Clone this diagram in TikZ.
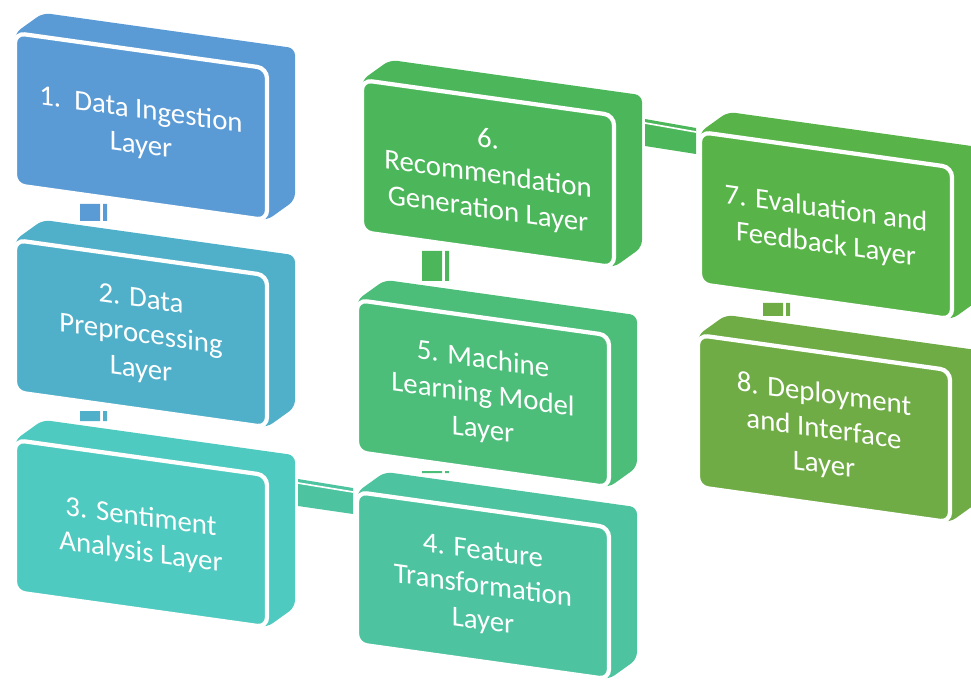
\documentclass[tikz,border=0pt]{standalone}
\usepackage{fontspec}
\setmainfont{Carlito}
\usetikzlibrary{calc}

\definecolor{layerA}{RGB}{91,155,213}
\definecolor{layerB}{RGB}{80,176,202}
\definecolor{layerC}{RGB}{79,202,192}
\definecolor{layerD}{RGB}{77,195,160}
\definecolor{layerE}{RGB}{76,190,122}
\definecolor{layerF}{RGB}{76,183,90}
\definecolor{layerG}{RGB}{88,180,72}
\definecolor{layerH}{RGB}{112,172,70}

\tikzset{
  hull/.style={fill=#1, rounded corners=5pt},
  face/.style={fill=#1, draw=white, line width=3pt, rounded corners=7pt},
  facetext/.style={text=white, align=center, transform shape,
    font=\fontsize{20.5}{25}\selectfont},
  barline/.style={white, line width=1.2pt},
}

% one 3d block: front face corner, colour, text
\newcommand{\layerblock}[3]{%
  \begin{scope}[shift={(#1)}, yslant=-0.14]
    \fill[hull=#2] (0,0) -- (28,-24) -- (280,-24) -- (280,128) -- (252,152) -- (0,152) -- cycle;
    \draw[face=#2] (0,0) rectangle (252,152);
    \node[facetext] (#1-t) at (126,78) {#3};
  \end{scope}}

% bar going down from one block to the next
\newcommand{\vlink}[3]{%
  \fill[#3] let \p1=($(#1)+(0,171)$), \p2=($(#2)+(65,-19)$) in
    (\x2,\y1) rectangle ($(\x2,\y2)+(20,0)$)
    ($(\x2,\y1)+(23,0)$) rectangle ($(\x2,\y2)+(27,0)$);}

% bar going right from one block to the next
\newcommand{\hlink}[3]{%
  \fill[#3] ($(#1)+(283,39)$) -- ($(#2)+(-4,-4)$) -- ($(#2)+(-4,22)$) -- ($(#1)+(283,66)$) -- cycle;
  \draw[barline] ($(#1)+(283,43)$) -- ($(#2)+(-4,0)$);}

\begin{document}
\begin{tikzpicture}[x=0.025cm, y=-0.025cm]
  \useasboundingbox (0,0) rectangle (971,681);

  % front face corners
  \coordinate (L1) at (15,33);
  \coordinate (L2) at (15,240);
  \coordinate (L3) at (15,440);
  \coordinate (L4) at (357,492);
  \coordinate (L5) at (357,300);
  \coordinate (L6) at (362,80);
  \coordinate (L7) at (700,132);
  \coordinate (L8) at (698,335);

  % --- links ---
  \vlink{L1}{L2}{layerA}
  \vlink{L2}{L3}{layerB}
  \hlink{L3}{L4}{layerD}
  \vlink{L5}{L4}{layerE}
  \vlink{L6}{L5}{layerF}
  \hlink{L6}{L7}{layerF}
  \vlink{L7}{L8}{layerH}

  % --- blocks ---
  \layerblock{L1}{layerA}{1.\ \ Data Ingestion\\Layer}
  \layerblock{L2}{layerB}{2. Data\\Preprocessing\\Layer}
  \layerblock{L3}{layerC}{3. Sentiment\\Analysis Layer}
  \layerblock{L4}{layerD}{4. Feature\\Transformation\\Layer}
  \layerblock{L5}{layerE}{5. Machine\\Learning Model\\Layer}
  \layerblock{L6}{layerF}{6.\\Recommendation\\Generation Layer}
  \layerblock{L7}{layerG}{7. Evaluation and\\Feedback Layer}
  \layerblock{L8}{layerH}{8. Deployment\\and Interface\\Layer}
\end{tikzpicture}
\end{document}
